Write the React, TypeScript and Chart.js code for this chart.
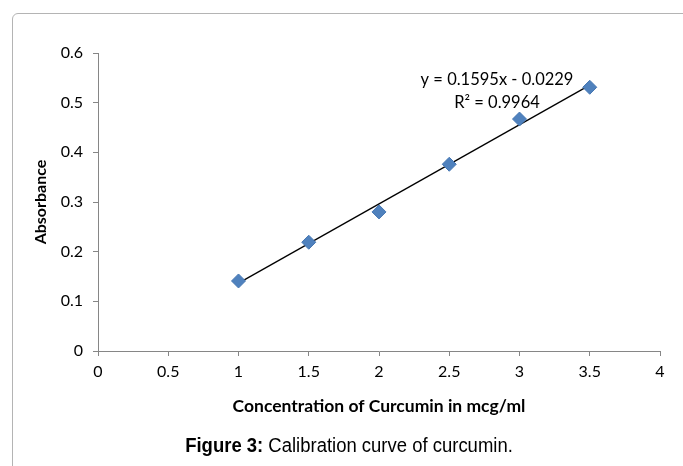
import React, { useEffect, useRef } from "react";
import { Chart, registerables } from "chart.js";

Chart.register(...registerables);

const concentrations = [1, 1.5, 2, 2.5, 3, 3.5];
const absorbances = [0.141, 0.219, 0.28, 0.376, 0.467, 0.531];
const trendX = [1, 3.5];
const trendY = [0.1366, 0.5354];
const equationLines = ["y = 0.1595x - 0.0229", "R² = 0.9964"];
const equationAnchor = { x: 2.84, y: 0.5456, y2: 0.4993 };
const xTitle = "Concentration of Curcumin in mcg/ml";
const yTitle = "Absorbance";
const captionBold = "Figure 3:";
const captionText = " Calibration curve of curcumin.";

const FONT = "Lato, 'Open Sans', sans-serif";

const equationPlugin = {
  id: "equation",
  afterDatasetsDraw(chart: any) {
    const { ctx, scales } = chart;
    const xs = scales.x;
    const ys = scales.y;
    ctx.save();
    ctx.font = `16.5px ${FONT}`;
    ctx.fillStyle = "#000";
    ctx.textAlign = "center";
    ctx.textBaseline = "middle";
    const px = xs.getPixelForValue(equationAnchor.x);
    ctx.fillText(equationLines[0], px, ys.getPixelForValue(equationAnchor.y));
    ctx.fillText(equationLines[1], px, ys.getPixelForValue(equationAnchor.y2));
    ctx.restore();
  },
};

export default function App() {
  const ref = useRef<HTMLCanvasElement | null>(null);

  useEffect(() => {
    if (!ref.current) return;
    const points = concentrations.map((x, i) => ({ x, y: absorbances[i] }));
    const trend = trendX.map((x, i) => ({ x, y: trendY[i] }));
    const chart = new Chart(ref.current, {
      type: "scatter",
      data: {
        datasets: [
          {
            type: "line",
            data: trend,
            borderColor: "#000",
            borderWidth: 1.3,
            pointRadius: 0,
            showLine: true,
            fill: false,
            order: 2,
          } as any,
          {
            data: points,
            pointStyle: "rectRot",
            pointRadius: 7,
            backgroundColor: "#4F81BD",
            borderColor: "#4677b3",
            borderWidth: 1,
            order: 1,
          },
        ],
      },
      options: {
        responsive: false,
        animation: false,
        devicePixelRatio: 1,
        layout: { padding: { left: 0, right: 23, top: 53, bottom: 0 } },
        plugins: {
          legend: { display: false },
          tooltip: { enabled: false },
        },
        scales: {
          x: {
            type: "linear",
            min: 0,
            max: 4,
            afterFit: (s: any) => {
              s.height = 115;
            },
            ticks: {
              stepSize: 0.5,
              padding: 6,
              color: "#000",
              font: { family: FONT, size: 16 },
              maxRotation: 0,
              callback: (v: any) => String(Number(Number(v).toFixed(1))),
            },
            grid: {
              drawOnChartArea: false,
              drawTicks: true,
              tickLength: 5,
              color: "#868686",
            },
            border: { color: "#868686", width: 1 },
            title: {
              display: true,
              text: xTitle,
              color: "#000",
              font: { family: FONT, size: 17.5, weight: "bold" },
              padding: 49,
            },
          },
          y: {
            type: "linear",
            min: 0,
            max: 0.6,
            afterFit: (s: any) => {
              s.width = 98;
            },
            ticks: {
              stepSize: 0.1,
              padding: 10,
              color: "#000",
              font: { family: FONT, size: 16 },
              callback: (v: any) => String(Number(Number(v).toFixed(1))),
            },
            grid: {
              drawOnChartArea: false,
              drawTicks: true,
              tickLength: 5,
              color: "#868686",
            },
            border: { color: "#868686", width: 1 },
            title: {
              display: true,
              text: yTitle,
              color: "#000",
              font: { family: FONT, size: 16, weight: "bold" },
              padding: 31,
            },
          },
        },
      },
      plugins: [equationPlugin],
    });
    return () => chart.destroy();
  }, []);

  return (
    <div
      style={{
        position: "absolute",
        left: 0,
        top: 0,
        width: 683,
        height: 466,
        overflow: "hidden",
        background: "#fff",
      }}
    >
      <div
        style={{
          position: "absolute",
          left: 12,
          top: 13,
          width: 800,
          height: 600,
          border: "1px solid #b4b4b4",
          borderTopLeftRadius: 6,
        }}
      />
      <canvas
        ref={ref}
        width={683}
        height={466}
        style={{ position: "absolute", left: 0, top: 0, width: 683, height: 466 }}
      />
      <div
        style={{
          position: "absolute",
          left: 0,
          top: 433,
          width: 698,
          textAlign: "center",
          fontFamily: "'Liberation Sans', Arial, sans-serif",
          fontSize: 20,
          lineHeight: "24px",
          color: "#000",
          transform: "scaleX(0.924)",
          transformOrigin: "349px 0",
          whiteSpace: "nowrap",
        }}
      >
        <b>{captionBold}</b>
        {captionText}
      </div>
    </div>
  );
}
